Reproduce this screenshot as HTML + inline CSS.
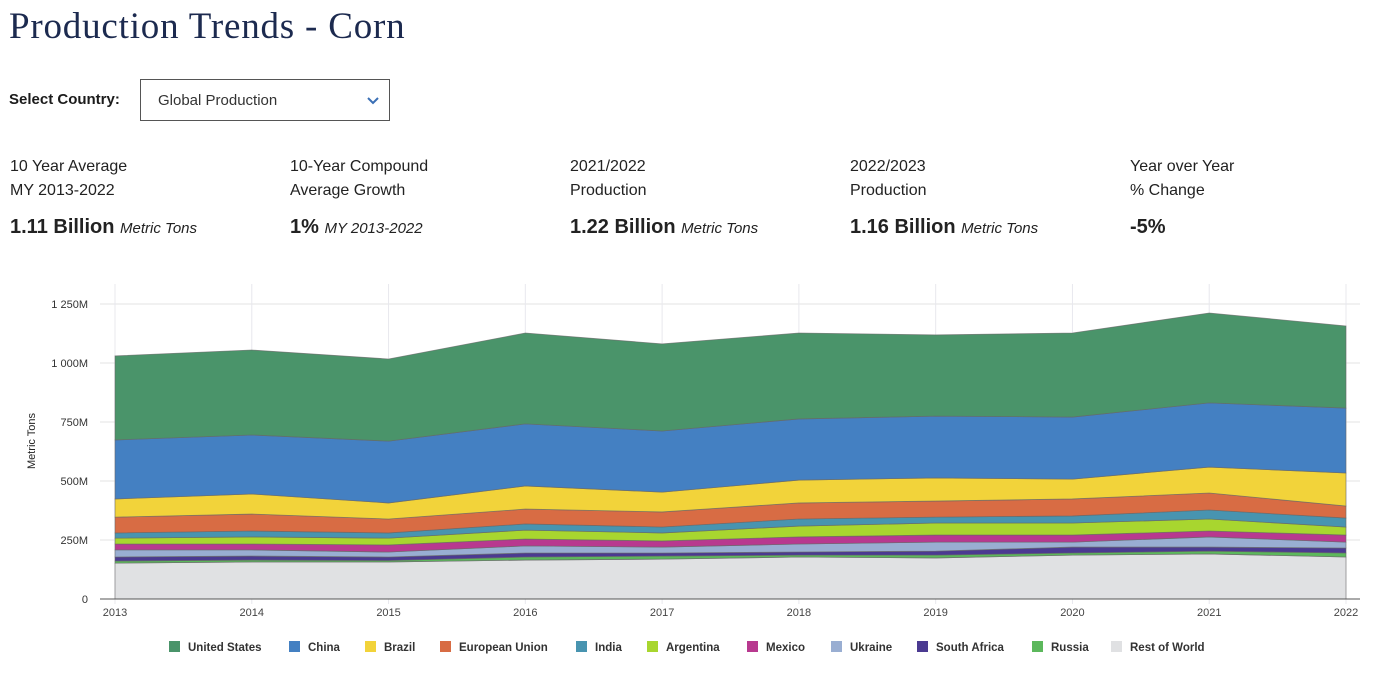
<!DOCTYPE html>
<html><head><meta charset="utf-8"><style>
body{margin:0;width:1382px;height:699px;background:#fff;font-family:"Liberation Sans",sans-serif;color:#1b1b1b;position:relative;overflow:hidden}
.abs{position:absolute}
h1{position:absolute;left:9px;top:5px;margin:0;font-family:"Liberation Serif",serif;font-weight:normal;font-size:37px;letter-spacing:0.8px;color:#1c2a4f}
.stat{position:absolute;top:155px;font-size:16px;line-height:24px;color:#222}
.big{font-size:20px;font-weight:bold;margin-top:12px}
.big i{font-size:15px;font-weight:normal}
</style></head><body>
<h1>Production Trends - Corn</h1>
<div class="abs" style="left:9px;top:91px;font-size:15px;font-weight:bold">Select Country:</div>
<div class="abs" style="left:140px;top:79px;width:250px;height:42px;border:1px solid #555;box-sizing:border-box">
<span style="position:absolute;left:17px;top:12px;font-size:15px;color:#333">Global Production</span>
<svg style="position:absolute;left:226px;top:17px" width="12" height="8"><path d="M1 1 L6 6 L11 1" stroke="#3a6fb5" stroke-width="2" fill="none"/></svg>
</div>
<div class="stat" style="left:10px">10 Year Average<br>MY 2013-2022<div class="big">1.11 Billion <i>Metric Tons</i></div></div>
<div class="stat" style="left:290px">10-Year Compound<br>Average Growth<div class="big">1% <i>MY 2013-2022</i></div></div>
<div class="stat" style="left:570px">2021/2022<br>Production<div class="big">1.22 Billion <i>Metric Tons</i></div></div>
<div class="stat" style="left:850px">2022/2023<br>Production<div class="big">1.16 Billion <i>Metric Tons</i></div></div>
<div class="stat" style="left:1130px">Year over Year<br>% Change<div class="big">-5%</div></div>
<svg id="chart" class="abs" style="left:0;top:270px" width="1382" height="429"></svg>
<script>
const years=[2013,2014,2015,2016,2017,2018,2019,2020,2021,2022];
const yTicks=[0,250,500,750,1000,1250];
const yTickLabels=["0","250M","500M","750M","1 000M","1 250M"];
const seriesNames=["Rest of World","Russia","South Africa","Ukraine","Mexico","Argentina","India","European Union","Brazil","China","United States"];
const rowW=[152,157,157,165,169,178,174,186,191,178];
const russia=[9,8,6,13,13,8,12,9,12,17];
const southAfrica=[17,17,15,17,13,13,17,25,17,21];
const ukraine=[30,26,21,30,25,34,38,21,43,25];
const mexico=[25,25,30,29,26,30,30,30,25,30];
const argentina=[25,30,29,38,34,46,51,51,51,34];
const india=[22,25,22,26,25,30,25,30,38,38];
const eu=[67,72,59,63,64,68,68,72,72,51];
const brazil=[77,85,68,98,84,97,98,84,110,140];
const china=[250,250,262,263,259,259,262,263,272,275];
const us=[356,360,348,385,369,364,344,356,381,348];
const seriesData=[rowW,russia,southAfrica,ukraine,mexico,argentina,india,eu,brazil,china,us];
const colors=["#e0e1e3","#5cb85c","#4b3a91","#99aed2","#b8398f","#a8d62f","#4894b0","#d86c44","#f2d33a","#4480c2","#4a946a"];
const legendOrder=[10,9,8,7,6,5,4,3,2,1,0];
const svg=document.getElementById('chart');const NS='http://www.w3.org/2000/svg';
const X0=115,X1=1346,Y0=329,PPM=0.236;
const xs=i=>X0+(X1-X0)*i/(years.length-1);
const ys=v=>Y0-v*PPM;
function mk(t,a){const e=document.createElementNS(NS,t);for(const k in a)e.setAttribute(k,a[k]);svg.appendChild(e);return e;}
yTicks.forEach((v,i)=>{const g=mk('line',{x1:100,x2:1360,y1:ys(v),y2:ys(v),stroke:'#e3e3e3'});


const t=mk('text',{x:88,y:ys(v)+4,'text-anchor':'end','font-size':11,fill:'#333'});t.textContent=yTickLabels[i];

});
years.forEach((y,i)=>{const g=mk('line',{x1:xs(i),x2:xs(i),y1:14,y2:Y0+5,stroke:'#e8e8ee'});


const t=mk('text',{x:xs(i),y:Y0+17,'text-anchor':'middle','font-size':11,fill:'#444'});t.textContent=y;

});
const base=years.map(()=>0);
seriesData.forEach((s,k)=>{const lo=base.slice();s.forEach((v,i)=>base[i]+=v);
let d='M'+years.map((_,i)=>xs(i)+','+ys(base[i])).join('L');
for(let i=years.length-1;i>=0;i--)d+='L'+xs(i)+','+ys(lo[i]);d+='Z';
const p=mk('path',{d:d,fill:colors[k],stroke:'#666','stroke-width':0.8,'stroke-opacity':0.7});

});
const ax=mk('line',{x1:100,x2:1360,y1:Y0,y2:Y0,stroke:'#555','stroke-width':1});


const yt=mk('text',{x:35,y:171,'text-anchor':'middle','font-size':11,fill:'#222',transform:'rotate(-90 35 171)'});yt.textContent='Metric Tons';


const lw=[120,76,75,136,71,100,84,86,115,79,100];let lx=169;
legendOrder.forEach((k,j)=>{const r=mk('rect',{x:lx,y:371,width:11,height:11,fill:colors[k]});


const t=mk('text',{x:lx+19,y:381,'font-size':11.5,'font-weight':'bold',fill:'#333'});t.textContent=seriesNames[k];


lx+=lw[j];});
</script>
</body></html>
